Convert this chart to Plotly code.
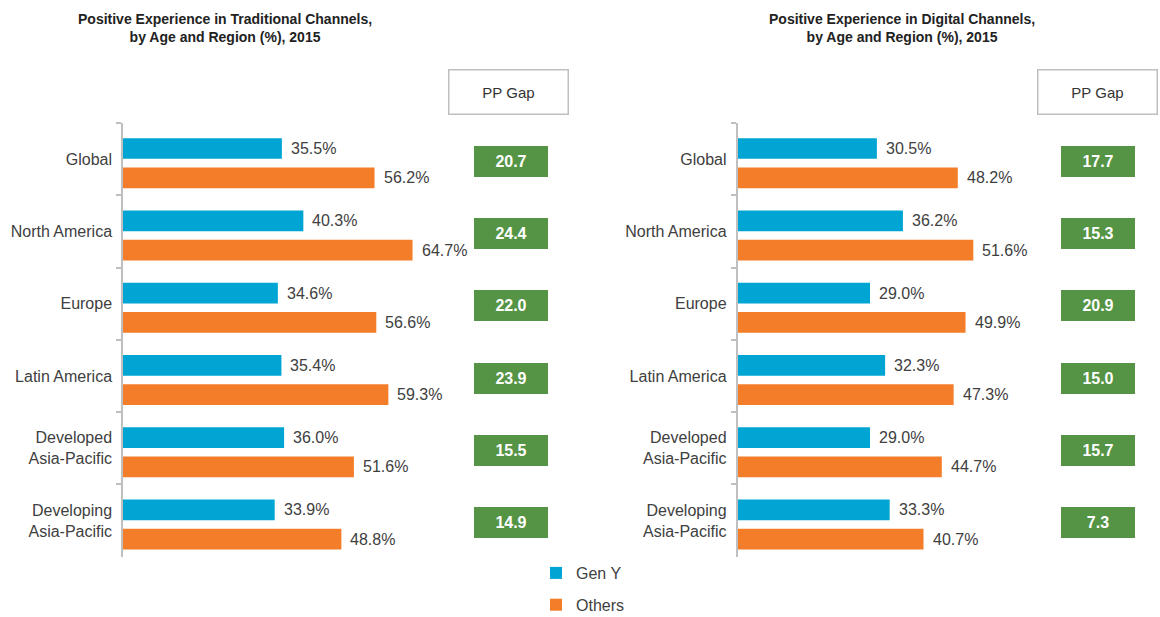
import plotly.graph_objects as go

# ---------------- data ----------------
regions = ["Global", "North America", "Europe", "Latin America",
           "Developed<br>Asia-Pacific", "Developing<br>Asia-Pacific"]
trad_geny = [35.5, 40.3, 34.6, 35.4, 36.0, 33.9]
trad_others = [56.2, 64.7, 56.6, 59.3, 51.6, 48.8]
trad_gap = [20.7, 24.4, 22.0, 23.9, 15.5, 14.9]
dig_geny = [30.5, 36.2, 29.0, 32.3, 29.0, 33.3]
dig_others = [48.2, 51.6, 49.9, 47.3, 44.7, 40.7]
dig_gap = [17.7, 15.3, 20.9, 15.0, 15.7, 7.3]
series_names = ["Gen Y", "Others"]
titles = ["Positive Experience in Traditional Channels,<br>by Age and Region (%), 2015",
          "Positive Experience in Digital Channels,<br>by Age and Region (%), 2015"]
gap_header = "PP Gap"

# ---------------- styles ----------------
W, H = 1160, 617
BLUE = "#00a5d3"
ORANGE = "#f47d29"
GREEN = "#559445"
AXIS_GRAY = "#bfbfbf"
TEXT = "#404040"
FONT = "Liberation Sans, Arial, sans-serif"

def px_x(p):
    return p / W

def px_y(p):
    return 1 - p / H

y_dom = [px_y(556.7), px_y(123)]
# left panel: axis at 123px, 4.475 px per %
left_dom = [px_x(123), px_x(575)]
left_range = [0, (575 - 123) / 4.475]
# right panel: axis at 737.5px, 4.57 px per %
right_dom = [px_x(737.5), px_x(1160)]
right_range = [0, (1160 - 737.5) / 4.57]

BAR_W = 0.286
OFF = [-0.29, 0.115]

fig = go.Figure()

panels = [
    dict(geny=trad_geny, others=trad_others, gap=trad_gap, xa="x", ya="y",
         gap_x=511, head_x=508.8, title_x=225),
    dict(geny=dig_geny, others=dig_others, gap=dig_gap, xa="x2", ya="y2",
         gap_x=1098, head_x=1097.5, title_x=902),
]

annotations = []
for pi, p in enumerate(panels):
    for si, (vals, col) in enumerate([(p["geny"], BLUE), (p["others"], ORANGE)]):
        fig.add_trace(go.Bar(
            x=vals, y=regions, orientation="h",
            marker=dict(color=col, line=dict(width=0)),
            width=BAR_W, offset=OFF[si],
            name=series_names[si], legendgroup=series_names[si],
            showlegend=(pi == 0),
            xaxis=p["xa"], yaxis=p["ya"], hoverinfo="x+y",
        ))
        for i, v in enumerate(vals):
            annotations.append(dict(
                x=v, y=i + OFF[si] + BAR_W / 2, xref=p["xa"], yref=p["ya"],
                text=f"{v:.1f}%", showarrow=False, xanchor="left", yanchor="middle",
                xshift=7, font=dict(family=FONT, size=16, color=TEXT),
            ))
    # PP gap boxes
    for i, g in enumerate(p["gap"]):
        annotations.append(dict(
            x=px_x(p["gap_x"]), y=i + 0.03, xref="paper", yref=p["ya"],
            text=f"<b>{g:.1f}</b>", showarrow=False, xanchor="center", yanchor="middle",
            width=74, height=31, bgcolor=GREEN, borderpad=0, borderwidth=0,
            font=dict(family=FONT, size=16, color="white"),
        ))
    # header box
    annotations.append(dict(
        x=px_x(p["head_x"]), y=px_y(92.3), xref="paper", yref="paper",
        text=gap_header, showarrow=False, xanchor="center", yanchor="middle",
        width=118, height=43, bgcolor="white", bordercolor=AXIS_GRAY,
        borderwidth=1.5, borderpad=0,
        font=dict(family=FONT, size=15, color="#333333"),
    ))
    # title
    annotations.append(dict(
        x=px_x(p["title_x"]), y=px_y(9.5), xref="paper", yref="paper",
        text=f"<b>{titles[pi]}</b>", showarrow=False, xanchor="center", yanchor="top",
        align="center", font=dict(family=FONT, size=14, color="#222222"),
    ))

yaxis_common = dict(
    domain=y_dom, type="category", categoryorder="array", categoryarray=regions,
    autorange="reversed", showline=True, linecolor=AXIS_GRAY, linewidth=1.5,
    ticks="outside", ticklen=5, tickcolor=AXIS_GRAY, tickwidth=1.5,
    tickson="boundaries", showgrid=False, zeroline=False, ticklabelstandoff=6,
    tickfont=dict(family=FONT, size=16, color=TEXT), fixedrange=True,
    automargin=False,
)
xaxis_common = dict(visible=False, showgrid=False, zeroline=False, fixedrange=True,
                    automargin=False)

fig.update_layout(
    width=W, height=H, margin=dict(l=0, r=0, t=0, b=0, autoexpand=False),
    paper_bgcolor="white", plot_bgcolor="white",
    barmode="overlay",
    xaxis=dict(domain=left_dom, range=left_range, anchor="y", **xaxis_common),
    xaxis2=dict(domain=right_dom, range=right_range, anchor="y2", **xaxis_common),
    yaxis=dict(anchor="x", **yaxis_common),
    yaxis2=dict(anchor="x2", **yaxis_common),
    annotations=annotations,
    showlegend=True,
    legend=dict(x=px_x(536), y=px_y(556), xanchor="left", yanchor="top",
                orientation="v", tracegroupgap=8, bgcolor="rgba(0,0,0,0)",
                font=dict(family=FONT, size=16, color=TEXT)),
    font=dict(family=FONT),
)

fig.write_html("out.html", config={"displayModeBar": False},
               post_script="document.body.style.margin='0';")
